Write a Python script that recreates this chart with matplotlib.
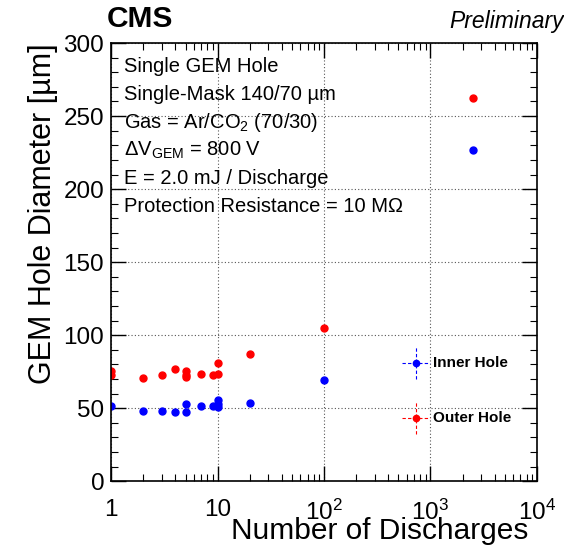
import numpy as np
import matplotlib.pyplot as plt
from matplotlib.ticker import FixedLocator, LogLocator, MultipleLocator, NullFormatter

plt.rcParams['font.family'] = ['Liberation Sans', 'DejaVu Sans']
plt.rcParams['mathtext.fontset'] = 'custom'
plt.rcParams['mathtext.rm'] = 'Liberation Sans'
plt.rcParams['mathtext.it'] = 'Liberation Sans:italic'

# data
outer_n = [1, 1, 2, 3, 4, 5, 5, 5, 7, 9, 10, 10, 20, 100, 2500]
outer_d = [75.3, 72.6, 71.0, 72.4, 77.0, 75.3, 73.0, 71.2, 73.3, 73.0, 73.5, 80.8, 86.8, 104.8, 262.5]
inner_n = [1, 2, 3, 4, 5, 5, 7, 9, 10, 10, 10, 20, 100, 2500]
inner_d = [51.4, 48.4, 48.4, 47.7, 53.0, 47.3, 51.4, 51.4, 55.3, 53.0, 50.7, 53.4, 69.4, 226.5]

info_lines = [
    "Single GEM Hole",
    "Single-Mask 140/70 µm",
    r"Gas = Ar/CO$_2$ (70/30)",
    r"$\Delta$V$_{\rm GEM}$ = 800 V",
    "E = 2.0 mJ / Discharge",
    "Protection Resistance = 10 MΩ",
]
x_ticks = [1, 10, 100, 1000, 10000]
x_ticklabels = ["1", "10", r"10$^2$", r"10$^3$", r"10$^4$"]

fig = plt.figure(figsize=(5.64, 5.45), dpi=100)
ax = fig.add_axes([0.197, 0.117, 0.755, 0.804])

ax.plot(inner_n, inner_d, 'o', color='blue', ms=5, ls='none')
ax.plot(outer_n, outer_d, 'o', color='red', ms=5, ls='none')

ax.set_xscale('log')
ax.set_xlim(1, 1e4)
ax.set_ylim(0, 300)
ax.xaxis.set_major_locator(FixedLocator(x_ticks))
ax.set_xticklabels(x_ticklabels)
ax.xaxis.set_minor_locator(LogLocator(base=10, subs=np.arange(2, 10)))
ax.xaxis.set_minor_formatter(NullFormatter())
ax.yaxis.set_major_locator(MultipleLocator(50))
ax.yaxis.set_minor_locator(MultipleLocator(10))

ax.tick_params(which='both', direction='in', top=True, right=True, labelsize=17.5)
ax.tick_params(which='major', length=11, width=1)
ax.tick_params(which='minor', length=5, width=0.8)
ax.tick_params(axis='x', pad=13)
ax.tick_params(axis='y', pad=5)
ax.grid(True, which='major', ls=(0, (1, 2)), color='#555555', lw=0.8)
for s in ax.spines.values():
    s.set_linewidth(1.2)

ax.set_xlabel("Number of Discharges", fontsize=21.5, loc='right')
ax.xaxis.set_label_coords(0.979, -0.081)
ax.set_ylabel("GEM Hole Diameter [µm]", fontsize=22, loc='top', labelpad=4)

for i, line in enumerate(info_lines):
    ax.text(0.03, 0.947 - i * 0.064, line, transform=ax.transAxes,
            fontsize=14.5, va='center', ha='left')

fig.text(0.19, 0.94, "CMS", fontsize=21.5, fontweight='bold', ha='left', va='bottom')
fig.text(1.0, 0.94, "Preliminary", fontsize=16.5, style='italic', ha='right', va='bottom')

# legend drawn as dashed error-bar crosses
for yl, col, lab in [(0.27, 'blue', "Inner Hole"), (0.144, 'red', "Outer Hole")]:
    eb = ax.errorbar([0.715], [yl], xerr=[0.033], yerr=[0.037], transform=ax.transAxes,
                     fmt='o', color=col, ms=4.5, elinewidth=0.8, ls='none', capsize=0)
    for lc in eb.lines[2]:
        lc.set_linestyle((0, (3, 2)))
    ax.text(0.757, yl, lab, transform=ax.transAxes, fontsize=11,
            fontweight='bold', va='center')

fig.savefig("out.png", dpi=100)
